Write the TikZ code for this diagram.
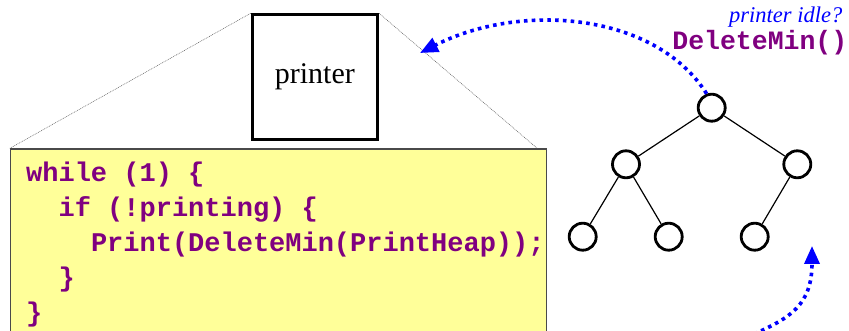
\documentclass[tikz,border=0pt]{standalone}
\usepackage{fontspec}
\setmainfont{Liberation Serif}
\newfontfamily\codefont{Liberation Mono}
\usetikzlibrary{arrows.meta}

\definecolor{codepurple}{HTML}{800080}
\definecolor{noteyellow}{HTML}{FFFF99}
\definecolor{boxedge}{HTML}{4A4A4A}

\tikzset{
  heapnode/.style={circle, draw=black, line width=2.8pt, minimum size=27pt, inner sep=0pt},
  heapedge/.style={line width=1.2pt, black},
  devicebox/.style={draw=black, line width=3pt, fill=white, minimum width=125.3pt,
                    minimum height=124.4pt, inner sep=0pt,
                    font=\fontsize{30}{33}\selectfont},
  codebox/.style={draw=boxedge, line width=1.3pt, fill=noteyellow, inner sep=0pt},
  codeline/.style={anchor=base west, inner sep=0pt, text=codepurple,
                   font=\codefont\bfseries\fontsize{27}{30}\selectfont},
  zoomline/.style={black!65, line width=0.5pt, dash pattern=on 0.9pt off 0.9pt},
  flowarrow/.style={blue, line width=3.6pt, dash pattern=on 3.6pt off 4.2pt,
                    -{Triangle[length=18pt,width=15pt]}},
}

\begin{document}
\begin{tikzpicture}[x=1pt, y=-1pt]
  \useasboundingbox (0,0) rectangle (849,331);
  \clip (0,0) rectangle (849,331);

  % printer and the code that drives it
  \node[devicebox] (printer) at (314.85,76.95) {printer};
  \node[codebox, minimum width=536.2pt, minimum height=200pt] (code) at (278.6,249) {};
  \coordinate (codetop) at (538,149);

  \draw[zoomline] (printer.north west) -- (code.north west);
  \draw[zoomline] (printer.north east) -- (codetop);

  \node[codeline] (c1) at (26,181.7)   {while (1) \{};
  \node[codeline] (c2) at (58.4,216.7) {if (!printing) \{};
  \node[codeline] (c3) at (90.8,251.7) {Print(DeleteMin(PrintHeap));};
  \node[codeline] (c4) at (58.4,286.7) {\}};
  \node[codeline] (c5) at (26,321.7)   {\}};

  % the print heap
  \node[heapnode] (root) at (711.7,107.7) {};
  \node[heapnode] (l)    at (626,164.3)   {};
  \node[heapnode] (r)    at (797.3,164.3) {};
  \node[heapnode] (ll)   at (582.7,236.7) {};
  \node[heapnode] (lr)   at (668.7,236.7) {};
  \node[heapnode] (rl)   at (754.7,236.7) {};

  \draw[heapedge] (root) -- (l);
  \draw[heapedge] (root) -- (r);
  \draw[heapedge] (l) -- (ll);
  \draw[heapedge] (l) -- (lr);
  \draw[heapedge] (r) -- (rl);

  % labels of the removal
  \node[anchor=base east, inner sep=0pt, text=blue,
        font=\itshape\fontsize{22.5}{25}\selectfont] (idle) at (842.5,22.5) {printer idle?};
  \node[anchor=base east, inner sep=0pt, text=codepurple,
        font=\codefont\bfseries\fontsize{26.5}{29}\selectfont] (dm) at (847.5,50) {DeleteMin()};

  % job flow: minimum to the printer, new jobs into the heap
  \coordinate (toprinter) at (420,53);
  \coordinate (newjob)    at (754,334);
  \coordinate (intoheap)  at (812,246);

  \draw[flowarrow] (root.110) .. controls (655,12) and (520,2) .. (toprinter);
  \draw[flowarrow] (newjob) .. controls (790,318) and (812,305) .. (intoheap);
\end{tikzpicture}
\end{document}
